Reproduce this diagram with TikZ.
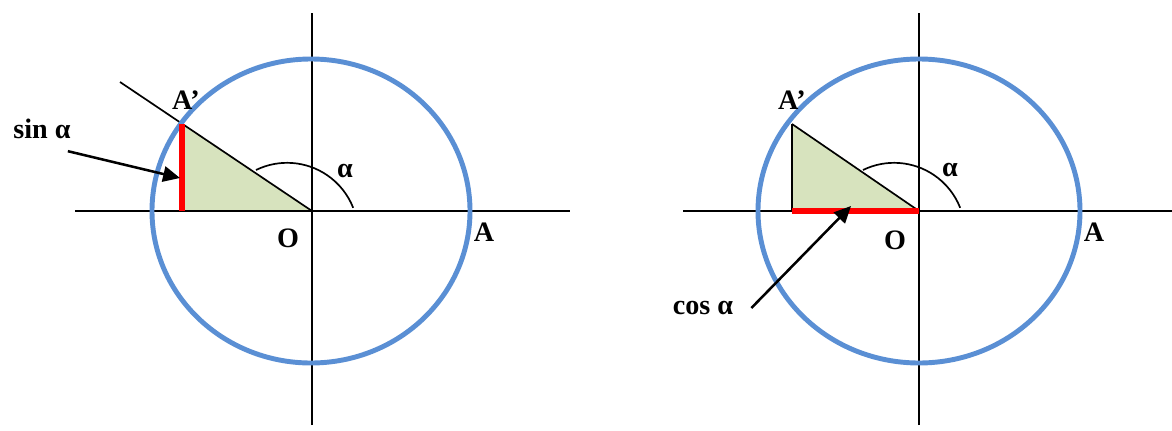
\documentclass[tikz,border=0pt]{standalone}
\usepackage{fontspec}
\setmainfont{Liberation Serif}
\usetikzlibrary{arrows.meta,calc}
\definecolor{circleblue}{HTML}{5A8FD4}
\definecolor{wedgegreen}{HTML}{D7E3BE}
\definecolor{segred}{HTML}{FF0000}

\begin{document}
\begin{tikzpicture}[
  x=0.025cm, y=0.025cm,
  axis/.style={draw=black, line width=1.2pt},
  unitcircle/.style={draw=circleblue, line width=3.5pt},
  wedge/.style={fill=wedgegreen},
  redseg/.style={draw=segred, line width=4.8pt},
  pointer/.style={-{Triangle[length=12pt, width=11pt]}, draw=black, line width=1.8pt},
  lbl/.style={font=\fontsize{20}{24}\selectfont\bfseries, inner sep=0pt}
]
  \useasboundingbox (0,0) rectangle (1172,430);

  % left: sine
  \coordinate (o1) at (312,219);
  \coordinate (p1) at ($(o1)+(-130,87)$);
  \coordinate (q1) at (p1 |- o1);
  \fill[wedge] (o1) -- (q1) -- (p1) -- cycle;
  \draw[axis] (75,219) -- (570,219);
  \draw[axis] (312,5) -- (312,417);
  \draw[axis] (o1) -- ($(o1)+(-192,129)$);
  \draw[unitcircle] ($(o1)+(-1,0)$) ellipse [x radius=159, y radius=152];
  \draw[redseg] (q1) -- (p1);
  \draw[axis] ($(o1)+(-56,41)$) arc[start angle=116, end angle=21.5, radius=71];

  \node[lbl] (a1p) at ($(o1)+(-126,111)$) {A’};
  \node[lbl] (o1lbl) at ($(o1)+(-24,-27)$) {O};
  \node[lbl] (a1) at ($(o1)+(172,-21)$) {A};
  \node[lbl] (al1) at ($(o1)+(33,40)$) {α};
  \node[lbl] (sinlbl) at (42,301) {sin α};
  \coordinate (sintail) at ($(sinlbl.south east)+(-3,-12)$);
  \coordinate (sintip) at (180,252);
  \draw[pointer] (sintail) -- (sintip);

  % right: cosine
  \coordinate (o2) at (919,219);
  \coordinate (p2) at ($(o2)+(-127,87)$);
  \coordinate (q2) at (p2 |- o2);
  \fill[wedge] (o2) -- (q2) -- (p2) -- cycle;
  \draw[axis] (683,219) -- (1172,219);
  \draw[axis] (919,5) -- (919,417);
  \draw[axis] (o2) -- (p2);
  \draw[axis] (q2) -- (p2);
  \draw[unitcircle] ($(o2)+(0,0)$) ellipse [x radius=161, y radius=152];
  \draw[redseg] (q2) -- (o2);
  \draw[axis] ($(o2)+(-56,41)$) arc[start angle=116, end angle=21.5, radius=71];

  \node[lbl] (a2p) at ($(o2)+(-127,111)$) {A’};
  \node[lbl] (o2lbl) at ($(o2)+(-24,-29)$) {O};
  \node[lbl] (a2) at ($(o2)+(175,-21)$) {A};
  \node[lbl] (al2) at ($(o2)+(31,41)$) {α};
  \node[lbl] (coslbl) at (703,122) {cos α};
  \coordinate (costail) at ($(coslbl.east)+(18,0)$);
  \coordinate (costip) at (851,224);
  \draw[pointer] (costail) -- (costip);
\end{tikzpicture}
\end{document}
